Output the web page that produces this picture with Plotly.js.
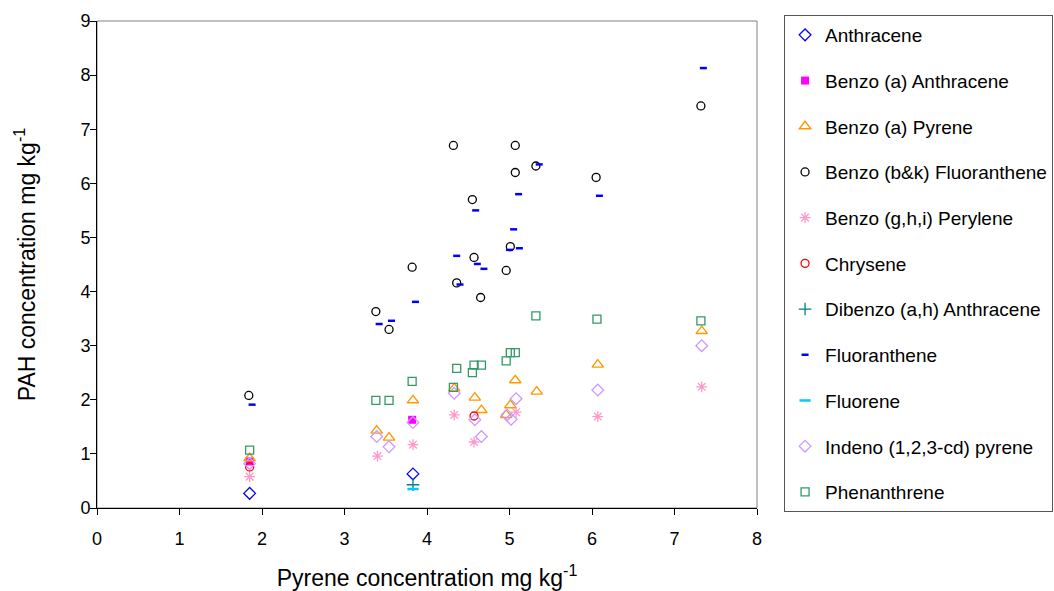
<!DOCTYPE html>
<html>
<head>
<meta charset="utf-8">
<script src="https://cdn.plot.ly/plotly-3.0.1.min.js"></script>
<style>
  html, body { margin: 0; padding: 0; background: #ffffff; }
  #chart { width: 1054px; height: 591px; }
</style>
</head>
<body>
<div id="chart"></div>
<script>
// PAH concentrations (mg/kg) against pyrene concentration (mg/kg)
const anthraceneX = [1.85, 3.83];
const anthraceneY = [0.27, 0.63];

const benzoAAnthraceneX = [1.85, 3.82];
const benzoAAnthraceneY = [0.86, 1.63];

const benzoAPyreneX = [1.85, 3.39, 3.54, 3.83, 4.33, 4.58, 4.66, 4.96, 5.01, 5.07, 5.33, 6.07, 7.33];
const benzoAPyreneY = [0.92, 1.43, 1.30, 1.99, 2.21, 2.04, 1.81, 1.72, 1.90, 2.36, 2.15, 2.65, 3.27];

const benzoBKFluorantheneX = [1.84, 3.38, 3.54, 3.82, 4.32, 4.36, 4.55, 4.57, 4.65, 4.96, 5.01, 5.07, 5.07, 5.32, 6.05, 7.32];
const benzoBKFluorantheneY = [2.08, 3.63, 3.30, 4.45, 6.70, 4.16, 5.70, 4.63, 3.89, 4.39, 4.83, 6.70, 6.20, 6.32, 6.11, 7.43];

const benzoGHIPeryleneX = [1.85, 3.40, 3.83, 4.33, 4.57, 5.08, 6.07, 7.33];
const benzoGHIPeryleneY = [0.58, 0.96, 1.17, 1.72, 1.22, 1.77, 1.69, 2.24];

const chryseneX = [1.85, 4.57];
const chryseneY = [0.76, 1.70];

const dibenzoAHAnthraceneX = [3.83];
const dibenzoAHAnthraceneY = [0.43];

const fluorantheneX = [1.88, 3.42, 3.57, 3.86, 4.36, 4.40, 4.59, 4.61, 4.69, 5.00, 5.05, 5.11, 5.12, 5.36, 6.09, 7.35];
const fluorantheneY = [1.91, 3.40, 3.46, 3.81, 4.66, 4.13, 5.50, 4.51, 4.42, 4.77, 5.15, 5.80, 4.80, 6.35, 5.77, 8.13];

const fluoreneX = [3.83];
const fluoreneY = [0.35];

const indenoPyreneX = [1.85, 3.39, 3.54, 3.83, 4.33, 4.58, 4.66, 4.97, 5.02, 5.08, 6.07, 7.33];
const indenoPyreneY = [0.82, 1.32, 1.13, 1.58, 2.12, 1.63, 1.32, 1.72, 1.64, 2.02, 2.18, 3.00];

const phenanthreneX = [1.85, 3.38, 3.54, 3.82, 4.32, 4.36, 4.55, 4.57, 4.66, 4.96, 5.01, 5.07, 5.32, 6.06, 7.32];
const phenanthreneY = [1.07, 1.99, 1.99, 2.34, 2.23, 2.58, 2.50, 2.64, 2.64, 2.72, 2.87, 2.87, 3.55, 3.49, 3.46];

const seriesNames = [
  'Anthracene', 'Benzo (a) Anthracene', 'Benzo (a) Pyrene', 'Benzo (b&k) Fluoranthene',
  'Benzo (g,h,i) Perylene', 'Chrysene', 'Dibenzo (a,h) Anthracene', 'Fluoranthene',
  'Fluorene', 'Indeno (1,2,3-cd) pyrene', 'Phenanthrene'
];

const xTickVals = [0, 1, 2, 3, 4, 5, 6, 7, 8];
const yTickVals = [0, 1, 2, 3, 4, 5, 6, 7, 8, 9];

const FONT = '"Liberation Sans", Arial, sans-serif';

function series(i, x, y, symbol, color, size, lineWidth) {
  return {
    type: 'scatter',
    mode: 'markers',
    name: seriesNames[i],
    legendgroup: 'g' + i,
    x: x,
    y: y,
    marker: {
      symbol: symbol,
      size: size,
      color: color,
      line: { color: color, width: lineWidth }
    },
    hoverinfo: 'x+y+name'
  };
}

const traces = [
  series(0, anthraceneX, anthraceneY, 'diamond-open', '#0000FF', 9, 1.3),
  series(1, benzoAAnthraceneX, benzoAAnthraceneY, 'square', '#FF00FF', 8, 0),
  series(2, benzoAPyreneX, benzoAPyreneY, 'triangle-up-open', '#FF9900', 10, 1.4),
  series(3, benzoBKFluorantheneX, benzoBKFluorantheneY, 'circle-open', '#000000', 8, 1.3),
  series(4, benzoGHIPeryleneX, benzoGHIPeryleneY, 'asterisk-open', '#FF99CC', 9, 1.3),
  series(5, chryseneX, chryseneY, 'circle-open', '#FF0000', 8, 1.3),
  series(6, dibenzoAHAnthraceneX, dibenzoAHAnthraceneY, 'cross-thin-open', '#008080', 9, 1.3),
  series(7, fluorantheneX, fluorantheneY, 'line-ew-open', '#0000FF', 5, 2.5),
  series(8, fluoreneX, fluoreneY, 'line-ew-open', '#00CCFF', 8, 2.5),
  series(9, indenoPyreneX, indenoPyreneY, 'diamond-open', '#CC99FF', 9, 1.3),
  series(10, phenanthreneX, phenanthreneY, 'square-open', '#339966', 8, 1.3)
];

const layout = {
  width: 1054,
  height: 591,
  margin: { l: 97, r: 297, t: 21, b: 83, pad: 0 },
  paper_bgcolor: '#ffffff',
  plot_bgcolor: '#ffffff',
  font: { family: FONT, size: 18, color: '#000000' },
  showlegend: true,
  legend: {
    xref: 'container',
    yref: 'container',
    x: 0.7439,
    y: 0.9746,
    xanchor: 'left',
    yanchor: 'top',
    bordercolor: '#555555',
    borderwidth: 1,
    bgcolor: '#ffffff',
    font: { family: FONT, size: 19, color: '#000000' },
    tracegroupgap: 18,
    traceorder: 'grouped',
    maxheight: 580,
    itemclick: false
  },
  xaxis: {
    range: [0, 8],
    tickvals: xTickVals,
    ticktext: xTickVals.map(String),
    ticks: 'outside',
    ticklen: 6,
    tickcolor: '#000000',
    ticklabelstandoff: 8,
    showline: true,
    linecolor: '#000000',
    linewidth: 1,
    showgrid: false,
    zeroline: false,
    tickfont: { family: FONT, size: 18 },
    title: {
      text: 'Pyrene concentration mg kg<sup>-1</sup>',
      font: { family: FONT, size: 23 },
      standoff: 22
    }
  },
  yaxis: {
    range: [0, 9],
    tickvals: yTickVals,
    ticktext: yTickVals.map(String),
    ticks: 'outside',
    ticklen: 6,
    tickcolor: '#000000',
    ticklabelstandoff: -4,
    showline: true,
    linecolor: '#000000',
    linewidth: 1,
    showgrid: false,
    zeroline: false,
    tickfont: { family: FONT, size: 18 },
    title: {
      text: 'PAH concentration mg kg<sup>-1</sup>',
      font: { family: FONT, size: 23 },
      standoff: 38
    }
  },
  shapes: [
    {
      type: 'rect', xref: 'paper', yref: 'paper',
      x0: 0, x1: 1, y0: 0, y1: 1,
      line: { color: '#808080', width: 1 },
      layer: 'below'
    }
  ]
};

Plotly.newPlot('chart', traces, layout, { displayModeBar: false, staticPlot: true });
</script>
</body>
</html>
